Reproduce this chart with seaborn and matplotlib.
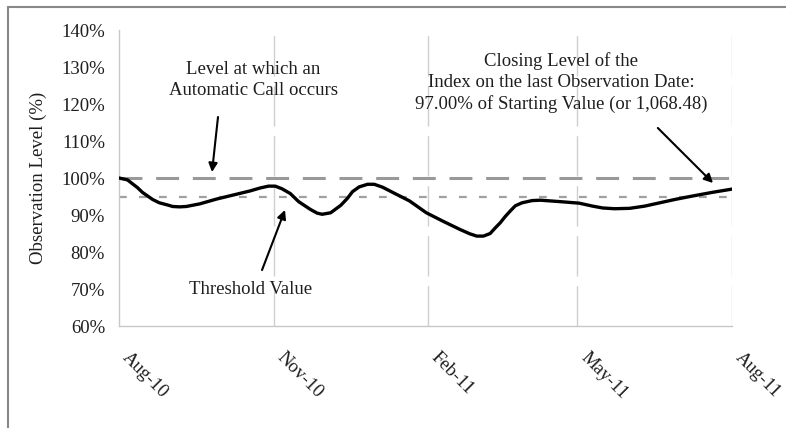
import pandas as pd
import matplotlib.pyplot as plt
from matplotlib.lines import Line2D
import seaborn as sns

# Index level (% of starting value)
obs_dates = ['2010-08-01', '2010-08-06', '2010-08-12', '2010-08-15', '2010-08-21',
             '2010-08-25', '2010-08-30', '2010-09-02', '2010-09-06', '2010-09-10',
             '2010-09-18', '2010-09-28', '2010-10-08', '2010-10-18', '2010-10-24',
             '2010-10-29', '2010-11-02', '2010-11-06', '2010-11-11', '2010-11-16',
             '2010-11-23', '2010-11-27', '2010-11-30', '2010-12-05', '2010-12-11',
             '2010-12-15', '2010-12-18', '2010-12-22', '2010-12-27', '2010-12-31',
             '2011-01-05', '2011-01-11', '2011-01-21', '2011-01-31', '2011-02-10',
             '2011-02-20', '2011-02-26', '2011-03-02', '2011-03-06', '2011-03-10',
             '2011-03-13', '2011-03-16', '2011-03-19', '2011-03-22', '2011-03-25',
             '2011-03-29', '2011-04-04', '2011-04-09', '2011-04-21', '2011-05-02',
             '2011-05-10', '2011-05-16', '2011-05-23', '2011-06-01', '2011-06-10',
             '2011-06-17', '2011-06-28', '2011-07-07', '2011-07-20', '2011-08-01']
obs_level = [100.0, 99.5, 97.4, 96.1, 94.2,
             93.3, 92.7, 92.3, 92.2, 92.3,
             93.0, 94.3, 95.4, 96.5, 97.3,
             97.8, 97.8, 97.1, 95.8, 93.6,
             91.5, 90.5, 90.2, 90.6, 92.6,
             94.5, 96.3, 97.6, 98.3, 98.3,
             97.5, 96.1, 93.8, 90.6, 88.3,
             86.1, 84.9, 84.3, 84.3, 85.0,
             86.5, 87.9, 89.6, 91.1, 92.5,
             93.3, 93.9, 94.0, 93.6, 93.2,
             92.4, 91.9, 91.7, 91.8, 92.4,
             93.1, 94.2, 95.0, 96.1, 97.0]

call_level = 100
threshold = 95

tick_dates = ['2010-08-01', '2010-11-01', '2011-02-01', '2011-05-01', '2011-08-01']
tick_labels = ['Aug-10', 'Nov-10', 'Feb-11', 'May-11', 'Aug-11']
y_ticks = [60, 70, 80, 90, 100, 110, 120, 130, 140]

df = pd.DataFrame({'date': pd.to_datetime(obs_dates), 'level': obs_level})

sns.set_style('white')
plt.rcParams['font.family'] = ['Liberation Serif', 'DejaVu Serif']
txt = '#1e1e1e'

fig = plt.figure(figsize=(7.86, 4.28), dpi=100)
ax = fig.add_axes([0.1514, 0.2383, 0.7799, 0.6916])

# reference lines
ax.axhline(call_level, color='#999999', lw=2.2, dashes=(7.5, 4.5), zorder=2)
ax.axhline(threshold, color='#a0a0a0', lw=1.6, dashes=(3.5, 5.5), zorder=2)

sns.lineplot(data=df, x='date', y='level', color='black', lw=2.4, ax=ax, zorder=3,
             solid_joinstyle='round', solid_capstyle='round')

ax.set_xlim(pd.Timestamp(tick_dates[0]), pd.Timestamp(tick_dates[-1]))
ax.set_ylim(60, 140)
ax.set_yticks(y_ticks)
ax.set_yticklabels([f'{v}%' for v in y_ticks], fontsize=13.5, color=txt)
ax.set_xticks(pd.to_datetime(tick_dates))
ax.set_xticklabels(tick_labels, fontsize=13.5, color=txt, rotation=-45,
                   ha='left', va='bottom', rotation_mode='anchor')

ax.tick_params(axis='both', length=4, width=1, color='#c8c8c8', direction='out')
ax.tick_params(axis='y', pad=6)
ax.tick_params(axis='x', pad=21)

for lbl_x in pd.to_datetime(tick_dates[1:]):
    ax.axvline(lbl_x, color='#cfcfcf', lw=1, dashes=(29, 7), zorder=1)

for side in ['top', 'right']:
    ax.spines[side].set_visible(False)
for side in ['left', 'bottom']:
    ax.spines[side].set_color('#c8c8c8')
    ax.spines[side].set_linewidth(1)

ax.set_xlabel('')
ax.set_ylabel('Observation Level (%)', fontsize=13.5, color=txt)
ax.yaxis.set_label_coords(-0.117, 0.5)

# annotations
arrow = dict(arrowstyle='-|>', color='black', lw=1.5, mutation_scale=13, shrinkA=0, shrinkB=0)
ax.text(0.2186, 0.831, 'Level at which an\nAutomatic Call occurs', transform=ax.transAxes,
        ha='center', va='center', fontsize=13.5, color=txt, linespacing=1.3)
ax.annotate('', xy=(0.1517, 0.52), xytext=(0.1615, 0.706), xycoords='axes fraction',
            arrowprops=arrow)

ax.text(0.215, 0.122, 'Threshold Value', transform=ax.transAxes,
        ha='center', va='center', fontsize=13.5, color=txt)
ax.annotate('', xy=(0.2708, 0.392), xytext=(0.2333, 0.189), xycoords='axes fraction',
            arrowprops=arrow)

ax.text(0.721, 0.821, 'Closing Level of the\nIndex on the last Observation Date:\n'
        '97.00% of Starting Value (or 1,068.48)', transform=ax.transAxes,
        ha='center', va='center', fontsize=13.5, color=txt, linespacing=1.3)
ax.annotate('', xy=(0.969, 0.483), xytext=(0.879, 0.669), xycoords='axes fraction',
            arrowprops=arrow)

# outer frame (top and left edges only)
fig.add_artist(Line2D([8 / 786, 1], [1 - 7 / 428, 1 - 7 / 428], color='#888888', lw=1.5))
fig.add_artist(Line2D([8 / 786, 8 / 786], [0, 1 - 7 / 428], color='#888888', lw=1.5))

fig.savefig('out.png', dpi=100)
